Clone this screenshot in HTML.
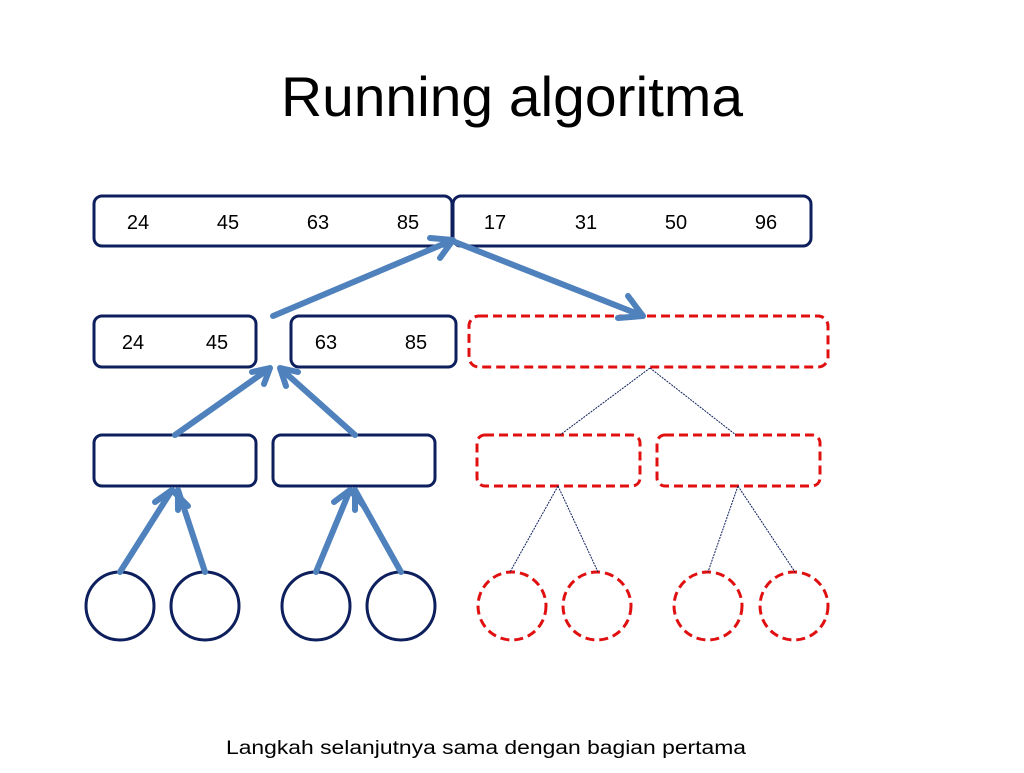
<!DOCTYPE html>
<html><head><meta charset="utf-8"><style>
body{margin:0;width:1024px;height:768px;background:#fff;overflow:hidden;font-family:"Liberation Sans",sans-serif}
</style></head><body>
<svg width="1024" height="768" xmlns="http://www.w3.org/2000/svg" font-family="Liberation Sans, sans-serif">
<text x="512" y="116" text-anchor="middle" font-size="56" textLength="462" lengthAdjust="spacingAndGlyphs" fill="#000">Running algoritma</text>
<g fill="#fff" stroke="#0d1f5c" stroke-width="3">
<rect x="94" y="196" width="358" height="50" rx="8"/>
<rect x="453" y="196" width="358" height="50" rx="8"/>
<rect x="94" y="316" width="162" height="51" rx="8"/>
<rect x="291" y="316" width="165" height="51" rx="8"/>
<rect x="94" y="435" width="162" height="51" rx="8"/>
<rect x="273" y="435" width="162" height="51" rx="8"/>
<ellipse cx="120" cy="606" rx="34" ry="34"/>
<ellipse cx="205" cy="606" rx="34" ry="34"/>
<ellipse cx="316" cy="606" rx="34" ry="34"/>
<ellipse cx="401" cy="606" rx="34" ry="34"/>
</g>
<g fill="#fff" stroke="#e01010" stroke-width="3" stroke-dasharray="9,5">
<rect x="469" y="316" width="359" height="51" rx="10"/>
<rect x="477" y="435" width="163" height="51" rx="8"/>
<rect x="657" y="435" width="163" height="51" rx="8"/>
<ellipse cx="512" cy="606" rx="34" ry="34"/>
<ellipse cx="597" cy="606" rx="34" ry="34"/>
<ellipse cx="708" cy="606" rx="34" ry="34"/>
<ellipse cx="794" cy="606" rx="34" ry="34"/>
</g>
<g stroke="#0d1f5c" stroke-width="1" stroke-dasharray="2,1" fill="none">
<path d="M650 368 L560 435 M650 368 L736 435 M558 486 L510 572 M558 486 L598 572 M738 486 L708 572 M738 486 L795 572"/>
</g>
<g font-size="20" fill="#000" text-anchor="middle">
<text x="138" y="229">24</text><text x="228" y="229">45</text><text x="318" y="229">63</text><text x="408" y="229">85</text>
<text x="495" y="229">17</text><text x="586" y="229">31</text><text x="676" y="229">50</text><text x="766" y="229">96</text>
<text x="133" y="349">24</text><text x="217" y="349">45</text><text x="326" y="349">63</text><text x="416" y="349">85</text>
</g>
<g stroke="#4f81bd" stroke-width="6" stroke-linecap="round" stroke-linejoin="round" fill="none">
<path d="M273 316 L453 240 M430 238 L453 240 L440 258"/>
<path d="M455 242 L643 316 M628 296 L643 316 L618 318"/>
<path d="M175 435 L270 368 M252 372 L270 368 L264 384"/>
<path d="M355 435 L280 368 M298 372 L280 368 L286 386"/>
<path d="M120 572 L172 490 M155 502 L172 490 M172 490 L188 506"/>
<path d="M205 572 L178 490 M178 490 L178 510"/>
<path d="M316 572 L350 490 M334 502 L350 490 L364 506"/>
<path d="M401 572 L355 490 M355 490 L355 510"/>
</g>
<text x="486" y="754" text-anchor="middle" font-size="19" textLength="520" lengthAdjust="spacingAndGlyphs" fill="#000">Langkah selanjutnya sama dengan bagian pertama</text>
</svg>
</body></html>
